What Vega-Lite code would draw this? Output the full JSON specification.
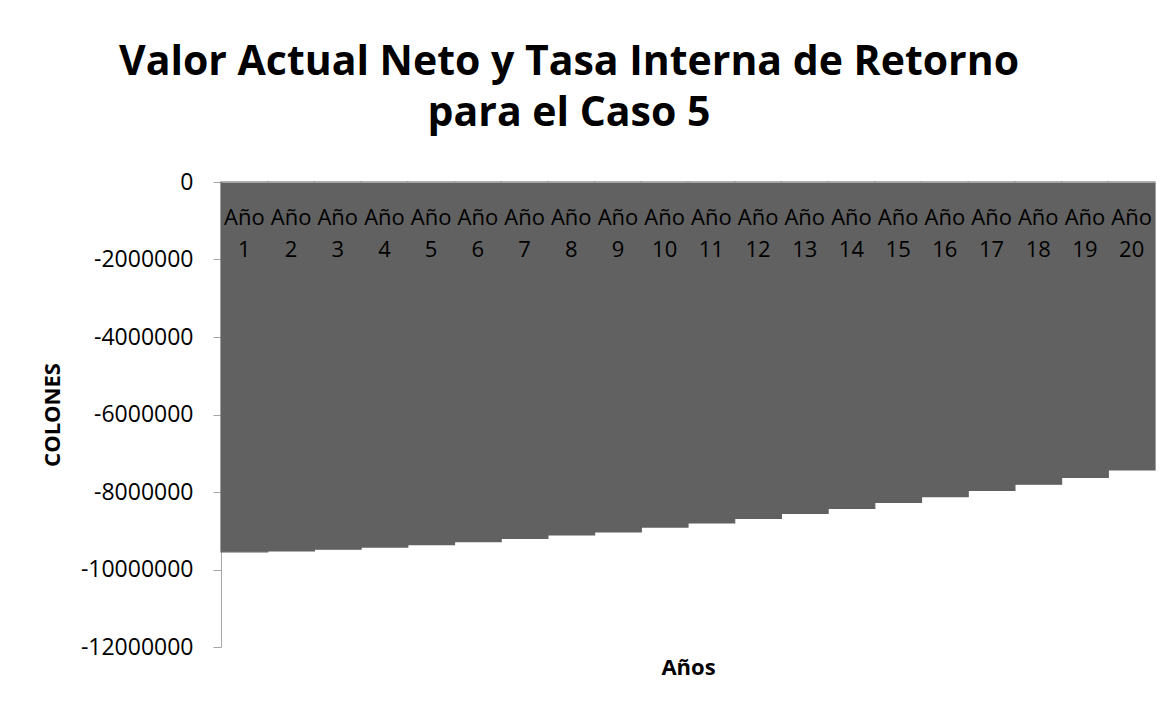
{
  "$schema": "https://vega.github.io/schema/vega-lite/v6.json",
  "width": 934,
  "height": 465,
  "autosize": {"type": "none"},
  "padding": {"left": 221, "top": 182, "right": 13, "bottom": 62},
  "background": "white",
  "title": {
    "text": ["Valor Actual Neto y Tasa Interna de  Retorno", "para el Caso 5"],
    "font": "Open Sans",
    "fontSize": 41,
    "fontWeight": "bold",
    "color": "#000000",
    "anchor": "middle",
    "frame": "group",
    "dx": -119,
    "offset": 36,
    "lineHeight": 51
  },
  "config": {
    "view": {"stroke": null},
    "axis": {"labelFont": "Open Sans", "titleFont": "Open Sans", "labelColor": "#000000", "titleColor": "#000000", "grid": false}
  },
  "data": {
    "values": [
      {"anio": "Año 1", "van": -9545000},
      {"anio": "Año 2", "van": -9520000},
      {"anio": "Año 3", "van": -9475000},
      {"anio": "Año 4", "van": -9420000},
      {"anio": "Año 5", "van": -9360000},
      {"anio": "Año 6", "van": -9280000},
      {"anio": "Año 7", "van": -9200000},
      {"anio": "Año 8", "van": -9110000},
      {"anio": "Año 9", "van": -9030000},
      {"anio": "Año 10", "van": -8905000},
      {"anio": "Año 11", "van": -8800000},
      {"anio": "Año 12", "van": -8680000},
      {"anio": "Año 13", "van": -8550000},
      {"anio": "Año 14", "van": -8420000},
      {"anio": "Año 15", "van": -8270000},
      {"anio": "Año 16", "van": -8120000},
      {"anio": "Año 17", "van": -7960000},
      {"anio": "Año 18", "van": -7800000},
      {"anio": "Año 19", "van": -7620000},
      {"anio": "Año 20", "van": -7430000}
    ]
  },
  "encoding": {
    "y": {
      "field": "van",
      "type": "quantitative",
      "scale": {"domain": [-12000000, 0], "nice": false, "zero": true},
      "axis": {
        "values": [0, -2000000, -4000000, -6000000, -8000000, -10000000, -12000000],
        "labelExpr": "datum.value == 0 ? '0' : '-' + format(abs(datum.value), 'd')",
        "title": "COLONES",
        "titleFontSize": 22,
        "titleFontWeight": "bold",
        "titlePadding": 16,
        "labelFontSize": 23,
        "labelPadding": 20,
        "tickSize": 8,
        "tickColor": "#a6a6a6",
        "domainColor": "#a6a6a6",
        "labelBaseline": "middle"
      }
    }
  },
  "layer": [
    {
      "mark": {"type": "bar", "color": "#616161", "stroke": "#616161", "strokeWidth": 1.2},
      "encoding": {
        "x": {
          "field": "anio",
          "type": "nominal",
          "sort": null,
          "scale": {"paddingInner": 0, "paddingOuter": 0},
          "axis": {
            "orient": "top",
            "title": null,
            "zindex": 1,
            "labelAngle": 0,
            "labelExpr": "split(datum.label, ' ')",
            "labelFontSize": 22,
            "labelLineHeight": 32,
            "labelBaseline": "top",
            "labelPadding": -25,
            "labelOverlap": false,
            "labelLimit": 0,
            "ticks": false,
            "tickSize": 0,
            "domainColor": "#a6a6a6"
          }
        }
      }
    },
    {
      "mark": {"type": "bar", "opacity": 0},
      "encoding": {
        "x": {
          "field": "anio",
          "type": "nominal",
          "sort": null,
          "axis": {
            "orient": "bottom",
            "title": "Años",
            "titleFontSize": 22,
            "titleFontWeight": "bold",
            "titlePadding": 10,
            "labels": false,
            "ticks": false,
            "domain": false
          }
        }
      }
    }
  ],
  "resolve": {"axis": {"x": "independent"}}
}
